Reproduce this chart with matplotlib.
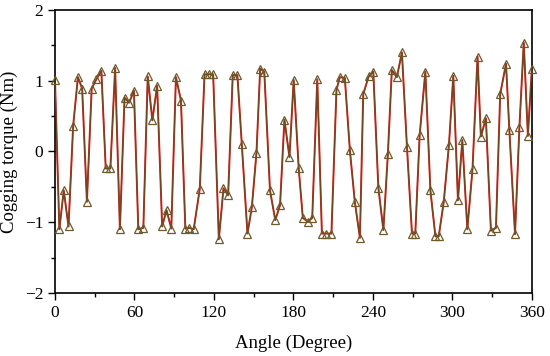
import numpy as np
import matplotlib
matplotlib.use('Agg')
import matplotlib.pyplot as plt
from matplotlib.ticker import MultipleLocator

plt.rcParams['font.family'] = ['Liberation Serif', 'DejaVu Serif']

# values
angle = [0.0, 3.3, 6.6, 10.2, 13.7, 17.3, 20.5, 24.1, 27.7, 31.2, 35.0, 38.3, 41.8, 45.4,
         49.0, 52.5, 56.0, 59.6, 62.9, 66.7, 70.0, 73.5, 77.1, 80.9, 84.2, 87.8, 91.3,
         95.1, 98.4, 101.4, 104.7, 109.3, 112.9, 116.1, 119.4, 123.7, 127.2, 130.7, 134.2,
         137.7, 141.0, 145.3, 148.6, 152.1, 154.9, 158.0, 162.3, 166.3, 169.9, 173.2, 177.0,
         180.2, 184.0, 187.1, 190.9, 194.2, 198.0, 201.5, 204.9, 208.7, 212.5, 215.0, 218.8,
         222.6, 226.4, 230.2, 232.7, 236.8, 240.3, 244.1, 247.9, 251.3, 254.3, 258.1, 261.9,
         265.7, 269.5, 272.0, 275.3, 279.6, 283.4, 287.2, 289.7, 293.5, 297.4, 300.7, 304.2,
         307.5, 311.3, 315.2, 319.0, 321.5, 325.3, 329.1, 332.9, 336.1, 340.5, 343.0, 347.3,
         350.6, 353.9, 357.0, 360.0]
torque = [1.01, -1.10, -0.55, -1.06, 0.36, 1.05, 0.89, -0.71, 0.89, 1.02, 1.14, -0.24, -0.24,
          1.18, -1.10, 0.76, 0.69, 0.86, -1.10, -1.08, 1.06, 0.44, 0.93, -1.06, -0.83, -1.09,
          1.05, 0.72, -1.09, -1.08, -1.10, -0.53, 1.09, 1.09, 1.09, -1.24, -0.52, -0.62, 1.08,
          1.08, 0.11, -1.16, -0.79, -0.02, 1.17, 1.13, -0.55, -0.97, -0.76, 0.45, -0.08, 1.01,
          -0.24, -0.94, -0.99, -0.94, 1.02, -1.16, -1.16, -1.16, 0.87, 1.05, 1.04, 0.02, -0.72,
          -1.22, 0.81, 1.06, 1.13, -0.51, -1.11, -0.04, 1.15, 1.05, 1.40, 0.07, -1.16, -1.16,
          0.23, 1.13, -0.55, -1.20, -1.20, -0.71, 0.09, 1.07, -0.69, 0.16, -1.10, -0.25, 1.34,
          0.21, 0.47, -1.12, -1.08, 0.81, 1.24, 0.31, -1.17, 0.34, 1.54, 0.22, 1.17]

fig = plt.figure(figsize=(5.5, 3.56), dpi=100)
ax = fig.add_axes([0.1, 0.177, 0.867, 0.795])

ax.plot(angle, torque, color='#d0261c', lw=1.4, zorder=2)
ax.plot(angle, torque, color='#6a4a22', lw=0.8, marker='^', ms=6, mfc='none',
        mec='#6b5a2c', mew=0.9, zorder=3, clip_on=False)

ax.set_xlim(0, 360)
ax.set_ylim(-2, 2)
ax.xaxis.set_major_locator(MultipleLocator(60))
ax.xaxis.set_minor_locator(MultipleLocator(30))
ax.yaxis.set_major_locator(MultipleLocator(1))
ax.yaxis.set_minor_locator(MultipleLocator(0.5))
ax.tick_params(which='both', direction='out', top=False, right=False, labelsize=12.5, width=1)
ax.tick_params(which='major', length=5)
ax.tick_params(which='minor', length=3)
for s in ax.spines.values():
    s.set_linewidth(1.2)

ax.set_xlabel('Angle (Degree)', fontsize=13.5, labelpad=10)
ax.set_ylabel('Cogging torque (Nm)', fontsize=13.5, labelpad=5)

fig.savefig('out.png', dpi=100)
